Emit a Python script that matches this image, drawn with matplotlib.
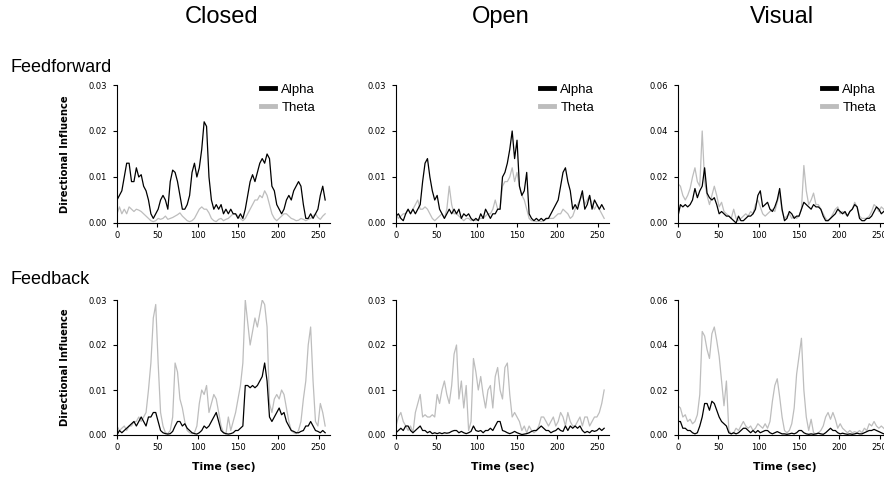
import numpy as np
import matplotlib
matplotlib.use("Agg")
import matplotlib.pyplot as plt

plt.rcParams['font.family'] = ['Liberation Sans', 'DejaVu Sans']

# sampling step of the traces (sec)
step = 3

conditions = ["Closed", "Open", "Visual"]
directions = ["Feedforward", "Feedback"]
ymax = [0.03, 0.03, 0.06]

# Feedforward
ff_closed_alpha = [.005, .006, .007, .010, .013, .013, .009, .009, .012, .010, .0105, .008, .007, .005, .002,
                   .001, .002, .003, .005, .006, .005, .003, .009, .0115, .011, .009, .006, .003, .003, .004,
                   .006, .011, .013, .010, .012, .016, .022, .021, .010, .005, .003, .004, .003, .004, .002,
                   .003, .002, .003, .002, .002, .001, .002, .001, .003, .006, .009, .0105, .009, .011, .013,
                   .014, .013, .015, .014, .008, .007, .004, .003, .002, .003, .005, .006, .005, .007, .008,
                   .009, .008, .004, .001, .001, .002, .001, .002, .003, .006, .008, .005]
ff_closed_theta = [.002, .0035, .002, .003, .002, .0035, .003, .0025, .003, .0028, .0025, .002, .0015, .001, .0005,
                   .0003, .0005, .001, .0008, .001, .0015, .0008, .001, .0012, .0015, .0018, .0022, .0015, .001, .0005,
                   .0003, .0005, .001, .002, .003, .0035, .003, .003, .0022, .001, .0005, .0003, .0008, .001, .0005,
                   .0008, .001, .0015, .002, .002, .0015, .001, .0005, .001, .002, .003, .004, .005, .005, .006,
                   .0055, .007, .006, .004, .002, .001, .0005, .001, .0015, .002, .002, .0015, .001, .0008, .0005,
                   .0006, .001, .0008, .0005, .0008, .001, .0015, .002, .0012, .0008, .0015, .002]
ff_open_alpha = [.0015, .002, .001, .0005, .002, .003, .002, .003, .002, .003, .004, .009, .013, .014, .010,
                 .007, .005, .006, .003, .002, .001, .002, .003, .002, .003, .002, .003, .001, .002, .0015,
                 .002, .001, .0005, .001, .0005, .002, .001, .003, .002, .001, .002, .002, .003, .003, .010,
                 .011, .013, .016, .020, .014, .018, .008, .006, .007, .011, .002, .001, .0005, .001, .0005,
                 .001, .0005, .001, .001, .002, .003, .004, .005, .008, .011, .012, .009, .007, .003, .004,
                 .003, .005, .007, .003, .004, .006, .003, .005, .004, .003, .004, .003]
ff_open_theta = [.002, .001, .0015, .002, .002, .003, .002, .003, .004, .005, .003, .003, .0035, .003, .002,
                 .001, .0005, .001, .0015, .002, .001, .003, .008, .004, .002, .002, .0015, .001, .0005, .001,
                 .001, .0005, .0008, .0005, .0008, .001, .001, .0015, .002, .002, .003, .005, .003, .003, .008,
                 .009, .009, .010, .012, .009, .011, .008, .006, .005, .003, .001, .0005, .0005, .0003, .0005,
                 .0003, .0005, .0008, .001, .001, .001, .0015, .002, .002, .003, .0025, .002, .001, .0015, .003,
                 .004, .005, .006, .004, .005, .006, .004, .003, .004, .003, .002, .001]
ff_visual_alpha = [.003, .008, .007, .008, .007, .008, .010, .015, .011, .014, .016, .024, .013, .011, .010,
                   .011, .008, .004, .005, .004, .003, .003, .002, .001, .000, .003, .001, .001, .002, .003,
                   .003, .004, .006, .012, .014, .007, .008, .009, .006, .005, .007, .010, .015, .006, .001,
                   .002, .005, .004, .002, .003, .003, .006, .009, .008, .007, .006, .008, .007, .007, .006,
                   .003, .001, .001, .002, .003, .004, .006, .005, .004, .005, .003, .005, .006, .008, .007,
                   .002, .001, .001, .002, .002, .003, .005, .007, .006, .004, .005, .006]
ff_visual_theta = [.017, .016, .012, .010, .012, .015, .020, .024, .018, .016, .040, .018, .012, .008, .012,
                   .016, .012, .007, .009, .005, .004, .003, .002, .006, .002, .001, .002, .003, .004, .003,
                   .005, .004, .008, .010, .007, .004, .003, .004, .005, .006, .005, .009, .013, .005, .002,
                   .003, .004, .002, .003, .002, .003, .006, .025, .014, .008, .010, .013, .008, .008, .006,
                   .004, .002, .001, .002, .004, .006, .007, .004, .005, .004, .003, .005, .006, .009, .007,
                   .003, .002, .002, .002, .003, .005, .008, .007, .005, .007, .006, .005]

# Feedback
fb_closed_alpha = [.000, .001, .0005, .001, .0015, .002, .0025, .003, .002, .003, .004, .003, .002, .004, .004,
                   .005, .005, .003, .001, .0005, .0003, .0002, .0003, .0008, .002, .003, .003, .002, .0025, .0015,
                   .001, .0005, .0003, .0002, .0005, .001, .002, .0015, .002, .003, .004, .005, .003, .001, .0005,
                   .0003, .0002, .0003, .0005, .001, .001, .0015, .002, .011, .011, .0105, .011, .0105, .011, .012,
                   .013, .016, .012, .004, .003, .004, .005, .006, .0045, .005, .003, .002, .001, .0008, .0005,
                   .0005, .0008, .001, .002, .002, .003, .002, .001, .0008, .0005, .001, .0005]
fb_closed_theta = [.002, .001, .0015, .002, .001, .002, .002, .003, .003, .004, .003, .004, .005, .010, .016,
                   .026, .029, .016, .005, .002, .0005, .0003, .001, .004, .016, .014, .008, .006, .003, .001,
                   .0005, .0003, .0005, .002, .007, .010, .009, .011, .005, .007, .009, .008, .005, .002, .0005,
                   .0002, .004, .001, .003, .005, .008, .011, .016, .030, .025, .020, .023, .026, .024, .027,
                   .030, .029, .024, .007, .005, .008, .009, .008, .010, .009, .006, .003, .001, .0005, .0003,
                   .001, .003, .008, .012, .020, .024, .012, .003, .002, .007, .005, .002]
fb_open_alpha = [.0005, .001, .0015, .001, .002, .002, .001, .0005, .001, .0015, .002, .001, .001, .0005, .0008,
                 .0003, .0005, .0003, .0005, .0003, .0005, .0004, .0005, .0008, .001, .001, .0005, .0008, .0005, .0003,
                 .0005, .0008, .002, .001, .0008, .001, .0005, .001, .001, .0015, .001, .002, .003, .003, .001,
                 .0008, .0005, .0003, .0005, .0008, .0005, .0003, .0001, .0002, .0003, .0005, .0008, .001, .001, .0015,
                 .002, .0015, .001, .001, .0005, .0008, .001, .0015, .001, .0008, .002, .001, .002, .0015, .002,
                 .0015, .002, .001, .0005, .0008, .0005, .001, .0008, .001, .0015, .001, .0015]
fb_open_theta = [.002, .004, .005, .003, .002, .001, .002, .0005, .005, .007, .009, .004, .0045, .004, .004,
                 .0045, .004, .009, .007, .010, .012, .009, .007, .011, .018, .020, .008, .012, .006, .011,
                 .001, .003, .017, .014, .010, .013, .009, .006, .010, .011, .006, .013, .015, .010, .008,
                 .015, .016, .009, .004, .005, .004, .003, .001, .002, .0005, .002, .001, .0005, .001, .002,
                 .004, .004, .003, .002, .003, .004, .002, .003, .005, .004, .002, .005, .003, .002, .002,
                 .003, .004, .002, .004, .004, .002, .003, .004, .004, .005, .007, .010]
fb_visual_alpha = [.006, .006, .003, .003, .002, .002, .001, .0005, .001, .004, .008, .014, .014, .011, .015,
                   .014, .011, .008, .006, .005, .004, .001, .0005, .001, .0005, .001, .002, .003, .003, .002,
                   .001, .002, .001, .002, .001, .0015, .002, .002, .001, .0005, .001, .0015, .001, .0005, .0005,
                   .0003, .0005, .0008, .0005, .001, .002, .002, .001, .0005, .0003, .0005, .0003, .0005, .0008, .0005,
                   .0003, .001, .002, .003, .002, .002, .001, .0005, .0008, .0005, .0003, .0005, .0003, .0005, .0008,
                   .0005, .0005, .001, .0015, .002, .002, .0025, .002, .0015, .001, .0005, .001]
fb_visual_theta = [.013, .012, .008, .009, .006, .007, .005, .006, .009, .018, .046, .044, .038, .034, .045,
                   .048, .042, .035, .024, .013, .024, .002, .0005, .001, .003, .002, .004, .006, .004, .003,
                   .004, .002, .003, .005, .004, .003, .005, .003, .006, .015, .022, .025, .017, .008, .002,
                   .001, .002, .005, .012, .027, .035, .043, .020, .008, .002, .007, .001, .0005, .001, .002,
                   .004, .008, .010, .007, .010, .007, .003, .005, .003, .002, .001, .002, .001, .0015, .001,
                   .002, .001, .003, .002, .005, .004, .006, .004, .003, .004, .003, .002]

series = [
    [(ff_closed_alpha, ff_closed_theta), (ff_open_alpha, ff_open_theta), (ff_visual_alpha, ff_visual_theta)],
    [(fb_closed_alpha, fb_closed_theta), (fb_open_alpha, fb_open_theta), (fb_visual_alpha, fb_visual_theta)],
]

alpha_col = "black"
theta_col = "#bdbdbd"

fig = plt.figure(figsize=(8.84, 4.78), dpi=100)

W, H = 884.0, 478.0
lefts = [117, 396, 678]          # axes left edge, px
tops = [85, 300]                 # axes top edge, px
hts = [138, 135]                 # axes height, px
wid = 213                        # axes width, px

for r in range(2):
    for c in range(3):
        ax = fig.add_axes([lefts[c] / W, 1 - (tops[r] + hts[r]) / H, wid / W, hts[r] / H])
        a, th = series[r][c]
        ta = np.arange(len(a)) * step
        tt = np.arange(len(th)) * step
        # theta drawn first so alpha sits on top
        ax.plot(tt, th, color=theta_col, lw=0.9, label="Theta", zorder=2)
        ax.plot(ta, a, color=alpha_col, lw=0.9, label="Alpha", zorder=3)
        ax.set_xlim(0, 264)
        ax.set_ylim(0, ymax[c])
        ax.set_xticks([0, 50, 100, 150, 200, 250])
        ax.set_yticks(np.linspace(0, ymax[c], 4))
        ax.yaxis.set_major_formatter(plt.FormatStrFormatter('%.2f'))
        ax.tick_params(length=3, width=0.8, direction='out')
        ax.tick_params(axis='x', pad=3)
        ax.tick_params(axis='y', pad=4.5)
        for lab in ax.get_xticklabels() + ax.get_yticklabels():
            lab.set_fontfamily('DejaVu Sans')
            lab.set_fontsize(6)
        for s in ["top", "right"]:
            ax.spines[s].set_visible(False)
        for s in ["left", "bottom"]:
            ax.spines[s].set_linewidth(0.8)
        if c == 0:
            ax.set_ylabel("Directional Influence", fontsize=7.2, fontweight='bold',
                          family='DejaVu Sans')
            ax.yaxis.set_label_coords(-47 / wid, 0.5)
        if r == 1:
            ax.set_xlabel("Time (sec)", fontsize=7.8, fontweight='bold', family='DejaVu Sans')
            ax.xaxis.set_label_coords(0.5, -27 / hts[r])
        if r == 0:
            h, l = ax.get_legend_handles_labels()
            leg = ax.legend(h[::-1], l[::-1], loc="upper left", bbox_to_anchor=(144 / wid, 1.01),
                            frameon=False, fontsize=9.5, handlelength=1.05, handletextpad=0.5,
                            labelspacing=0.45, borderpad=0, borderaxespad=0)
            for ln in leg.get_lines():
                ln.set_linewidth(3.5)

col_x = [222, 501, 782]
for c, name in enumerate(conditions):
    fig.text(col_x[c] / W, 1 - 17 / H, name, ha="center", va="center", fontsize=17)

fig.text(10 / W, 1 - 68 / H, directions[0], ha="left", va="center", fontsize=13)
fig.text(10 / W, 1 - 279 / H, directions[1], ha="left", va="center", fontsize=13)

fig.savefig("out.png", dpi=100)
